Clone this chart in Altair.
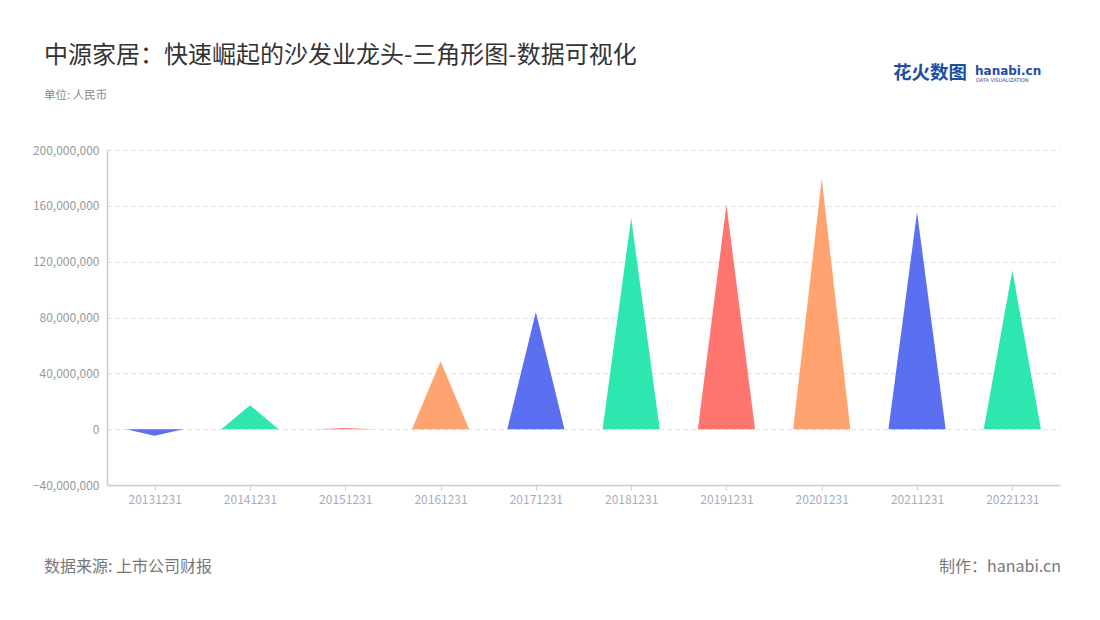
import altair as alt
import pandas as pd

categories = ["20131231", "20141231", "20151231", "20161231", "20171231",
              "20181231", "20191231", "20201231", "20211231", "20221231"]
values = [-4800000, 17200000, 900000, 48600000, 83900000,
          151300000, 160800000, 179500000, 155500000, 113700000]
palette = ["#5B70F1", "#2EE6B0", "#FF7670", "#FFA470"]
y_ticks = [-40000000, 0, 40000000, 80000000, 120000000, 160000000, 200000000]

HALF = 0.3  # half base width of each triangle, in category units

rows = []
for i, (c, v) in enumerate(zip(categories, values)):
    center = i + 0.5
    for dx, yy in [(-HALF, 0), (0, v), (HALF, 0)]:
        rows.append({"cat": c, "x": center + dx, "y": yy, "base": 0})
df = pd.DataFrame(rows)

colors = [palette[i % 4] for i in range(len(categories))]
label_expr = "[" + ",".join("'%s'" % c for c in categories) + "][floor(datum.value)]"

W, H = 953, 335
FONT = "Noto Sans CJK SC"

tri = alt.Chart(df).mark_area(interpolate="linear", opacity=1).encode(
    x=alt.X("x:Q", scale=alt.Scale(domain=[0, len(categories)], nice=False, zero=False),
            axis=alt.Axis(values=[i + 0.5 for i in range(len(categories))], labelExpr=label_expr,
                          title=None, grid=False, domainColor="#cccccc", domainWidth=1.5,
                          tickColor="#cccccc", tickSize=5, labelColor="#a7adbd",
                          labelFontSize=12, labelPadding=4)),
    y=alt.Y("y:Q", stack=None, scale=alt.Scale(domain=[-40000000, 200000000], nice=False),
            axis=alt.Axis(values=y_ticks, format=",d", title=None, grid=True,
                          gridDash=[4, 4], gridColor="#dcdcdc", domainColor="#cccccc",
                          domainWidth=1.5, ticks=False, labelColor="#999999",
                          labelFontSize=12, labelPadding=8)),
    y2="base:Q",
    color=alt.Color("cat:N", scale=alt.Scale(domain=categories, range=colors), legend=None),
    detail="cat:N",
)


def label(text, x, y, size, color, align="left", weight="normal", font=FONT):
    return alt.Chart(pd.DataFrame({"t": [text]})).mark_text(
        align=align, baseline="middle", fontSize=size, fontWeight=weight, color=color, font=font
    ).encode(text="t:N", x=alt.value(x), y=alt.value(y))


title = label("中源家居：快速崛起的沙发业龙头-三角形图-数据可视化", -63, -94, 24, "#333333")
subtitle = label("单位: 人民币", -63, -54, 11.5, "#888888")
footer_l = label("数据来源: 上市公司财报", -63, H + 82, 16, "#777777")
footer_r = label("制作：hanabi.cn", W + 1, H + 82, 16, "#777777", align="right")
logo1 = label("花火数图", 786, -77, 18.5, "#1f4e9f", weight="bold")
logo2 = label("hanabi.cn", 868, -79, 12, "#1f4e9f", weight="bold", font="DejaVu Sans")
logo3 = label("DATA VISUALIZATION", 869, -70, 5, "#1f4e9f", font="DejaVu Sans")

chart = alt.layer(tri, title, subtitle, footer_l, footer_r, logo1, logo2, logo3).properties(
    width=W, height=H,
    autosize=alt.AutoSizeParams(type="none"),
    padding={"left": 99, "top": 142, "right": 20, "bottom": 110},
).configure(font=FONT).configure_view(stroke=None)

chart.save("out.html", embed_options={"renderer": "svg", "actions": False})
